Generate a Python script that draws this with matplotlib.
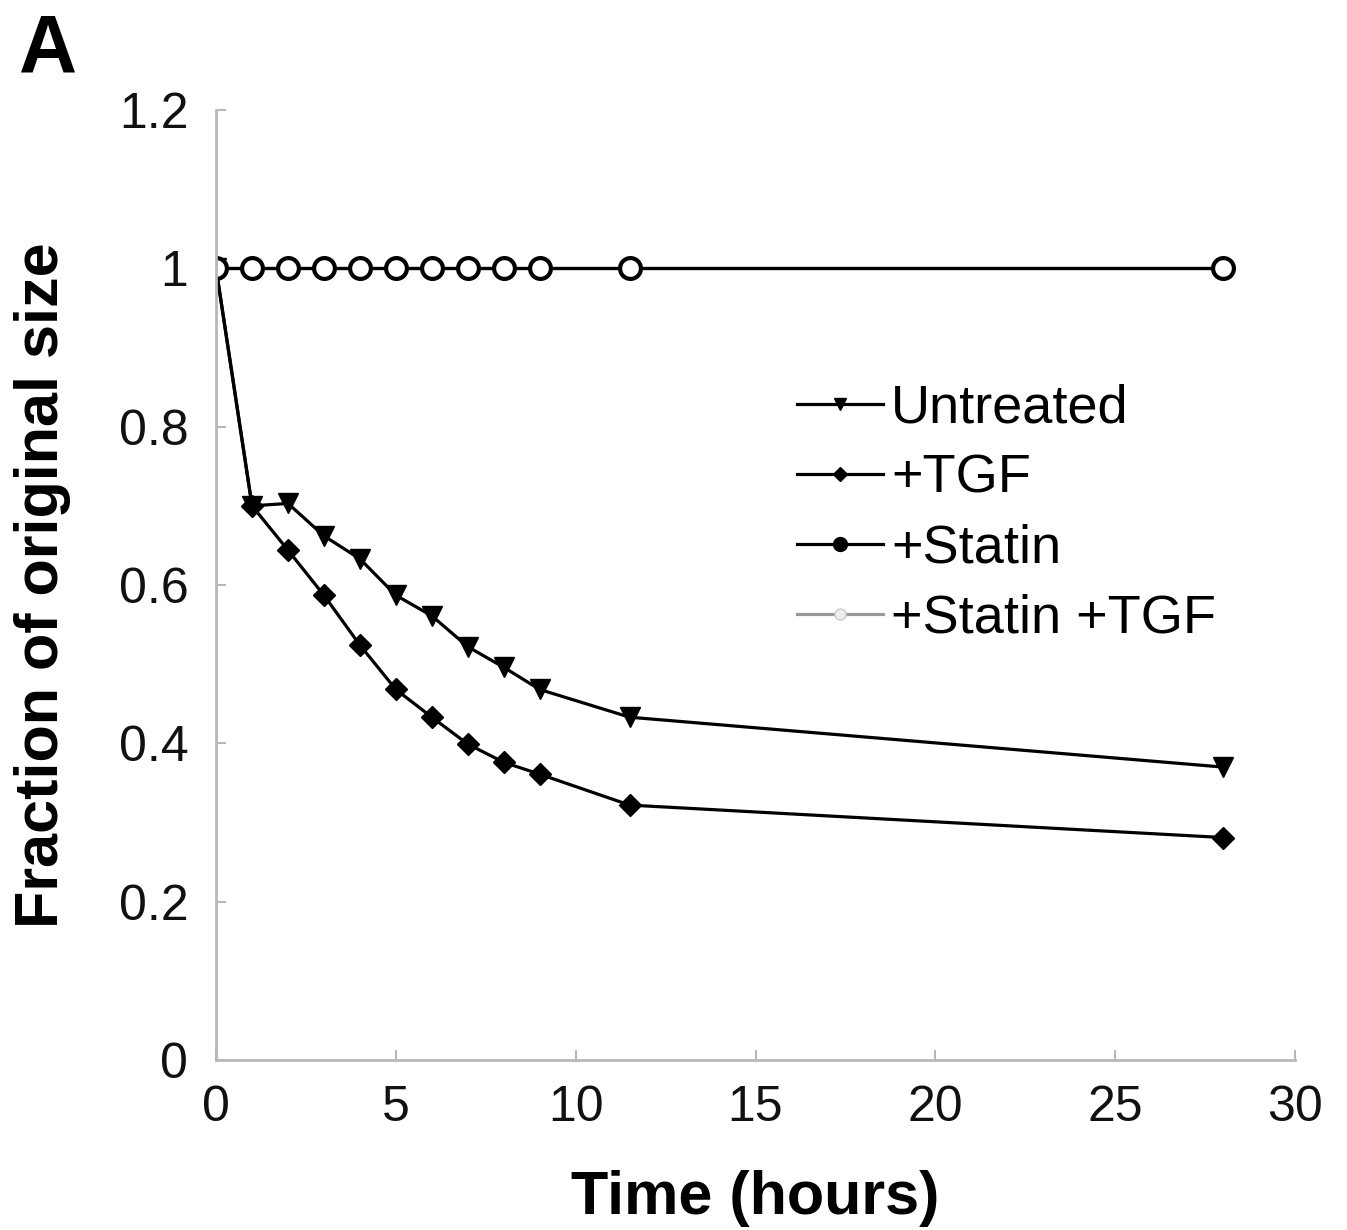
import matplotlib
matplotlib.use("Agg")
import matplotlib.pyplot as plt
from matplotlib.lines import Line2D

plt.rcParams['font.family'] = ['Liberation Sans', 'DejaVu Sans']

# Data
time_hours = [0, 1, 2, 3, 4, 5, 6, 7, 8, 9, 11.5, 28]
untreated = [1.0, 0.70, 0.703, 0.662, 0.633, 0.587, 0.561, 0.522, 0.496, 0.468, 0.433, 0.370]
tgf = [1.0, 0.70, 0.644, 0.587, 0.524, 0.468, 0.433, 0.399, 0.376, 0.361, 0.322, 0.281]
statin = [1.0, 1.0, 1.0, 1.0, 1.0, 1.0, 1.0, 1.0, 1.0, 1.0, 1.0, 1.0]
statin_tgf = [1.0, 1.0, 1.0, 1.0, 1.0, 1.0, 1.0, 1.0, 1.0, 1.0, 1.0, 1.0]
labels = ["Untreated", "+TGF", "+Statin", "+Statin +TGF"]
x_ticks = [0, 5, 10, 15, 20, 25, 30]
y_ticks = [0, 0.2, 0.4, 0.6, 0.8, 1.0, 1.2]
y_ticklabels = ["0", "0.2", "0.4", "0.6", "0.8", "1", "1.2"]

fig = plt.figure(figsize=(13.47, 12.30), dpi=100)
ax = fig.add_axes([0.1604, 0.1382, 0.8010, 0.7724])

lw = 2.3
l1, = ax.plot(time_hours, untreated, color='black', lw=lw, marker='v', ms=15, mfc='black', mec='black')
l2, = ax.plot(time_hours, tgf, color='black', lw=lw, marker='D', ms=11, mfc='black', mec='black')
l3, = ax.plot(time_hours, statin, color='black', lw=lw, marker='o', ms=15, mfc='black', mec='black')
l4, = ax.plot(time_hours, statin_tgf, color='black', lw=lw, marker='o', ms=15, mfc='white',
              mec='black', mew=3)

ax.set_xlim(0, 30)
ax.set_ylim(0, 1.2)
ax.set_xticks(x_ticks)
ax.set_yticks(y_ticks)
ax.set_yticklabels(y_ticklabels)

for s in ['top', 'right']:
    ax.spines[s].set_visible(False)
for s in ['left', 'bottom']:
    ax.spines[s].set_color('#b8b8b8')
    ax.spines[s].set_linewidth(2)

ax.tick_params(axis='both', direction='in', length=7, width=1.5, color='#b8b8b8',
               labelsize=36, labelcolor='#111111')
ax.tick_params(axis='x', pad=18)
ax.tick_params(axis='y', pad=20)

ax.set_xlabel("Time (hours)", fontsize=44, fontweight='bold', labelpad=28)
ax.set_ylabel("Fraction of original size", fontsize=44, fontweight='bold', labelpad=34)

h4 = Line2D([0], [0], color='#999999', lw=lw, marker='o', ms=8, mfc='#eeeeee', mec='#cccccc')
h1 = Line2D([0], [0], color='black', lw=lw, marker='v', ms=9, mfc='black', mec='black')
h2 = Line2D([0], [0], color='black', lw=lw, marker='D', ms=7, mfc='black', mec='black')
h3 = Line2D([0], [0], color='black', lw=lw, marker='o', ms=10, mfc='black', mec='black')
leg = ax.legend([h1, h2, h3, h4], labels, loc='upper left', bbox_to_anchor=(0.538, 0.712),
                frameon=False, fontsize=39, handlelength=1.6, handletextpad=0.15,
                labelspacing=0.37, borderaxespad=0, borderpad=0)

fig.text(0.014, 0.990, "A", fontsize=58, fontweight='bold', va='top', ha='left')

fig.savefig("out.png", dpi=100)
